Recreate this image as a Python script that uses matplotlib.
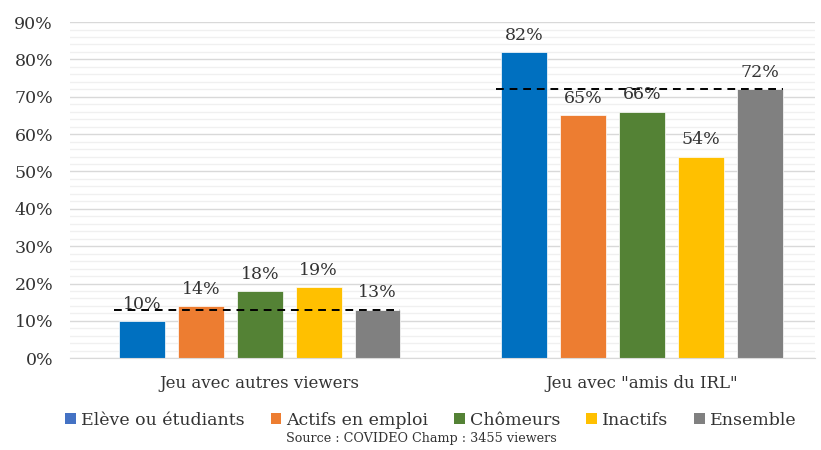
import matplotlib.pyplot as plt
import numpy as np
from matplotlib.patches import Patch

plt.rcParams['font.family'] = ['DejaVu Serif']

groups = ['Jeu avec autres viewers', 'Jeu avec "amis du IRL"']
series = ['Elève ou étudiants', 'Actifs en emploi', 'Chômeurs', 'Inactifs', 'Ensemble']
values = [
    [10, 82],   # Elève ou étudiants
    [14, 65],   # Actifs en emploi
    [18, 66],   # Chômeurs
    [19, 54],   # Inactifs
    [13, 72],   # Ensemble
]
bar_colors = ['#0070C0', '#ED7D31', '#548235', '#FFC000', '#808080']
legend_colors = ['#4472C4', '#ED7D31', '#548235', '#FFC000', '#808080']

fig = plt.figure(figsize=(8.21, 4.5), dpi=100)
ax = fig.add_axes([0.085, 0.204, 0.908, 0.747])

x = np.arange(len(groups))
step = 0.154
width = 0.12
offsets = (np.arange(len(series)) - 2) * step

for i, name in enumerate(series):
    vals = np.array(values[i]) / 100
    bars = ax.bar(x + offsets[i], vals, width, color=bar_colors[i],
                  edgecolor='white', linewidth=0.5, zorder=2)
    for b, v in zip(bars, values[i]):
        ax.annotate(f'{v}%', (b.get_x() + b.get_width() / 2, b.get_height()),
                    xytext=(0, 6), textcoords='offset points',
                    ha='center', va='bottom', fontsize=12.5, color='#333333', zorder=4)

# reference line at the "Ensemble" level across each group
for j, g in enumerate(groups):
    lvl = values[-1][j] / 100
    ax.plot([x[j] + offsets[0] - width / 2 - 0.013, x[j] + offsets[-1] + width / 2],
            [lvl, lvl], color='black', linestyle=(0, (4, 3)), linewidth=1.4, zorder=3)

ax.set_xlim(-0.497, 1.453)
ax.set_ylim(0, 0.9)
ax.set_yticks(np.arange(0, 0.91, 0.1))
ax.set_yticklabels([f'{int(round(t * 100))}%' for t in np.arange(0, 0.91, 0.1)],
                   fontsize=12.5, color='#333333')
ax.set_yticks(np.arange(0, 0.91, 0.02), minor=True)
ax.yaxis.grid(True, which='major', color='#d9d9d9', linewidth=1.0, zorder=0)
ax.yaxis.grid(True, which='minor', color='#f0f0f0', linewidth=1.0, zorder=0)
ax.set_axisbelow(True)
ax.tick_params(axis='y', which='both', length=0, pad=12)
ax.tick_params(axis='x', length=0, pad=12)
ax.set_xticks(x)
ax.set_xticklabels(groups, fontsize=12, color='#333333')
for s in ['top', 'right', 'left']:
    ax.spines[s].set_visible(False)
ax.spines['bottom'].set_color('#d9d9d9')

handles = [Patch(facecolor=c, edgecolor='none') for c in legend_colors]
fig.legend(handles, series, loc='center', bbox_to_anchor=(0.525, 0.066), ncol=5,
           frameon=False, fontsize=12.5, handlelength=0.6, handleheight=0.6,
           handletextpad=0.3, columnspacing=1.5, labelcolor='#333333')
fig.text(0.513, 0.025, 'Source : COVIDEO Champ : 3455 viewers', ha='center', va='center',
         fontsize=9.2, color='#333333')

fig.savefig('out.png', dpi=100)
